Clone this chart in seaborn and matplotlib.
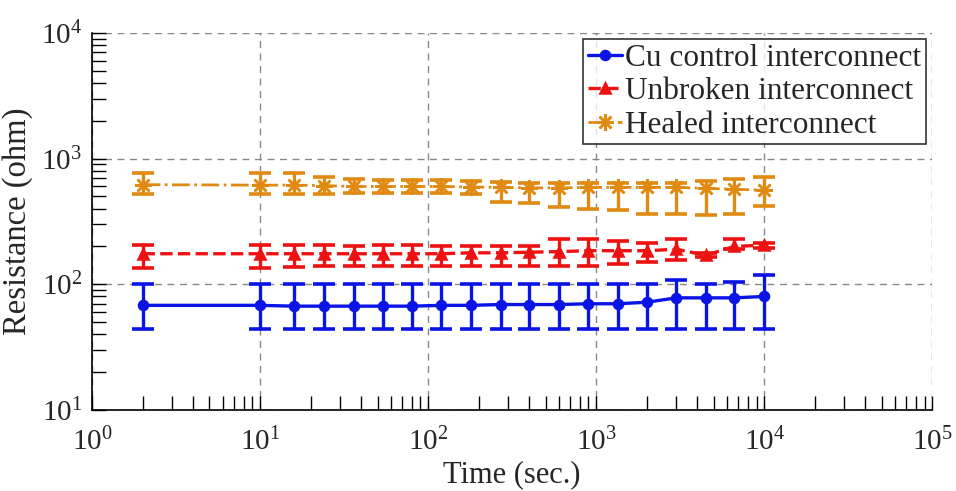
import matplotlib
matplotlib.use("Agg")
import matplotlib.pyplot as plt
import seaborn as sns
import numpy as np
import pandas as pd
from matplotlib.ticker import LogLocator, LogFormatterSciNotation, NullFormatter

# Measurement times (s)
time_s = [2, 10, 16, 24, 36, 54, 80, 120, 180, 270, 400, 600, 900, 1350,
          2000, 3000, 4500, 6600, 10000]

# Cu control interconnect
cu_mean = [68, 68, 67, 67, 67, 67, 67, 68, 68, 69, 69, 69, 70, 70, 72, 78, 78, 78, 80]
cu_low = [44, 44, 44, 44, 44, 44, 44, 44, 44, 44, 44, 44, 44, 44, 44, 44, 44, 44, 44]
cu_high = [100, 100, 100, 100, 100, 100, 100, 100, 100, 100, 100, 100, 100, 100,
           100, 109, 100, 104, 118]

# Unbroken interconnect
unb_mean = [175, 175, 175, 175, 175, 175, 175, 175, 178, 178, 180, 182, 185, 185,
            185, 190, 170, 200, 205]
unb_low = [135, 135, 138, 140, 140, 140, 140, 140, 140, 140, 140, 140, 140, 145,
           150, 155, 165, 190, 195]
unb_high = [205, 205, 205, 205, 200, 205, 205, 200, 200, 200, 200, 228, 228, 220,
            215, 228, 178, 230, 212]

# Healed interconnect
heal_mean = [620, 615, 615, 610, 600, 600, 600, 600, 595, 590, 585, 585, 590, 590,
             590, 590, 580, 570, 560]
heal_low = [520, 520, 520, 520, 530, 530, 530, 530, 520, 450, 440, 410, 400, 390,
            360, 360, 355, 360, 420]
heal_high = [770, 770, 770, 720, 690, 680, 670, 670, 660, 650, 640, 640, 640, 640,
             640, 640, 660, 690, 710]

series_names = ["Cu control interconnect", "Unbroken interconnect", "Healed interconnect"]

sns.set_style("white")
plt.rcParams["font.family"] = ["Liberation Serif", "DejaVu Serif"]
plt.rcParams["mathtext.fontset"] = "custom"
plt.rcParams["mathtext.rm"] = "Liberation Serif"
plt.rcParams["mathtext.it"] = "Liberation Serif:italic"
plt.rcParams["mathtext.bf"] = "Liberation Serif:bold"

fig = plt.figure(figsize=(9.56, 4.91), dpi=100)
ax = fig.add_axes([0.0962, 0.165, 0.879, 0.768])

styles = [
    dict(color="#0a14e6", ls="-", marker="o", ms=6.5, lw=2.4),
    dict(color="#ee1111", ls="--", marker="^", ms=7, lw=2.4),
    dict(color="#e08a12", ls="-.", marker=(8, 2, 0), ms=12, lw=2.0),
]
means = [cu_mean, unb_mean, heal_mean]
lows = [cu_low, unb_low, heal_low]
highs = [cu_high, unb_high, heal_high]

for name, st, m, lo, hi in zip(series_names, styles, means, lows, highs):
    df = pd.DataFrame({"time": time_s, "res": m})
    sns.lineplot(data=df, x="time", y="res", ax=ax, color=st["color"],
                 linestyle=st["ls"], marker=st["marker"], markersize=st["ms"],
                 markeredgecolor=st["color"], markeredgewidth=1.8,
                 linewidth=st["lw"], label=name)
    m_arr = np.array(m, dtype=float)
    yerr = [m_arr - np.array(lo), np.array(hi) - m_arr]
    ax.errorbar(time_s, m_arr, yerr=yerr, fmt="none", ecolor=st["color"],
                elinewidth=2.4, capsize=8, capthick=2.6, zorder=2)

ax.set_xscale("log")
ax.set_yscale("log")
ax.set_xlim(1, 1e5)
ax.set_ylim(10, 1e4)

ax.xaxis.set_major_locator(LogLocator(base=10, numticks=10))
ax.yaxis.set_major_locator(LogLocator(base=10, numticks=10))
ax.xaxis.set_minor_locator(LogLocator(base=10, subs=np.arange(2, 10), numticks=20))
ax.yaxis.set_minor_locator(LogLocator(base=10, subs=np.arange(2, 10), numticks=20))
ax.xaxis.set_major_formatter(LogFormatterSciNotation())
ax.yaxis.set_major_formatter(LogFormatterSciNotation())
ax.xaxis.set_minor_formatter(NullFormatter())
ax.yaxis.set_minor_formatter(NullFormatter())

ax.tick_params(which="both", direction="in", bottom=True, left=True,
               top=False, right=False, length=10, width=1, color="black")
ax.tick_params(axis="x", which="major", labelsize=21, pad=13)
ax.tick_params(axis="y", which="major", labelsize=21, pad=7)

ax.grid(True, which="major", color="#888888", linestyle=(0, (5, 4)), linewidth=1)
ax.set_axisbelow(True)

for side in ["top", "right"]:
    ax.spines[side].set_visible(False)
for side in ["left", "bottom"]:
    ax.spines[side].set_color("black")
    ax.spines[side].set_linewidth(1.2)

ax.set_xlabel("Time (sec.)", fontsize=22, labelpad=3)
ax.set_ylabel("Resistance (ohm)", fontsize=23.5, labelpad=6)

leg = ax.legend(loc="upper right", fontsize=22.5, frameon=True, fancybox=False,
                edgecolor="black", handlelength=1.1, handletextpad=0.1,
                borderpad=0.15, labelspacing=0.14, borderaxespad=0.2)
leg.get_frame().set_linewidth(1.2)

fig.savefig("out.png", dpi=100)
